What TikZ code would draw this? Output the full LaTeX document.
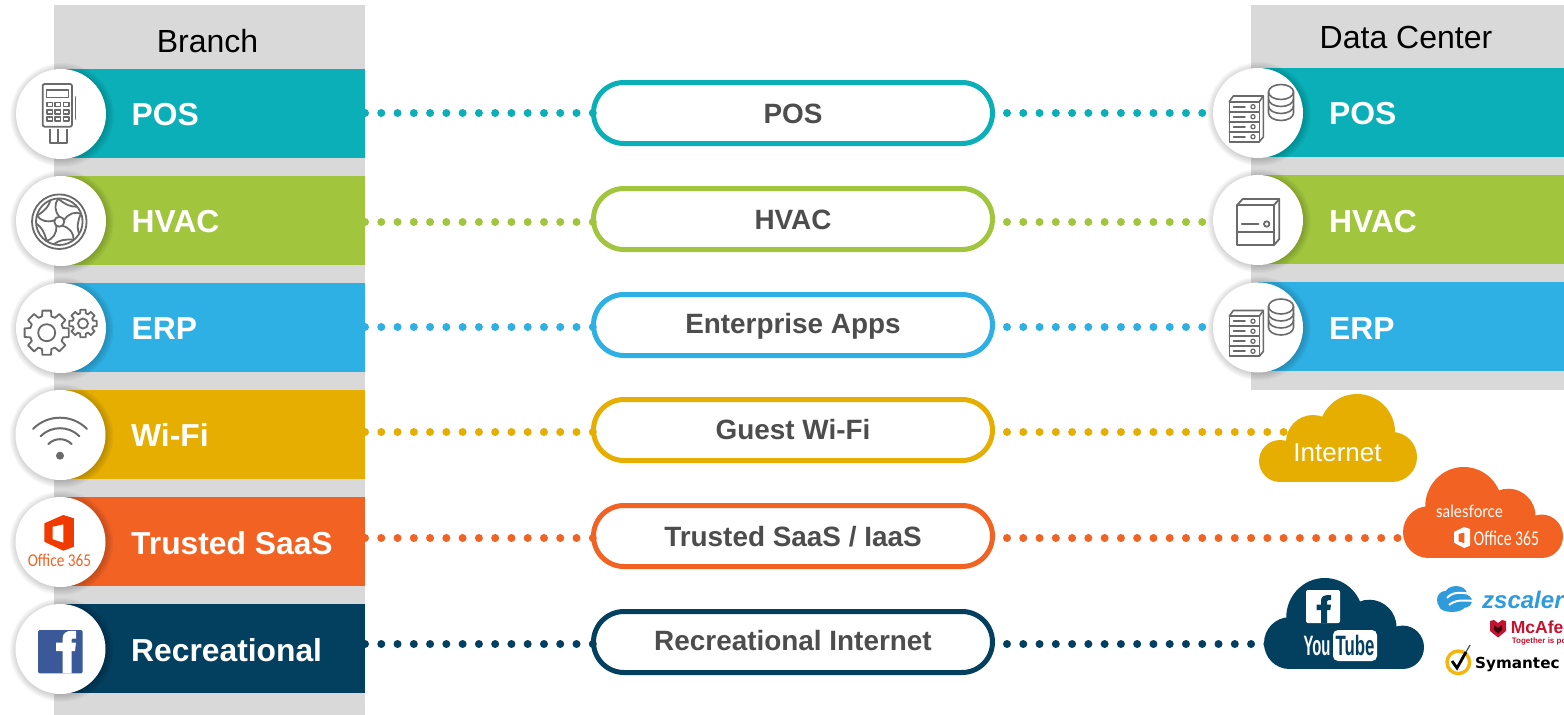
\documentclass[tikz,border=0pt]{standalone}
\usepackage{fontspec}
\usepackage{graphicx}
\setmainfont{Liberation Sans}
\newfontfamily\carlito{Carlito}
\newfontfamily\latofont{Lato}
\newfontfamily\dejavu{DejaVu Sans}
\definecolor{cteal}{HTML}{0AAFB7}
\definecolor{cgreen}{HTML}{A1C63E}
\definecolor{cblue}{HTML}{2EB0E4}
\definecolor{cyel}{HTML}{E5AE00}
\definecolor{corg}{HTML}{F26223}
\definecolor{cnavy}{HTML}{033F5F}
\definecolor{cgray}{HTML}{D9D9D9}
\definecolor{ctxt}{HTML}{4D4D4D}
\definecolor{cicon}{HTML}{6A6A6A}
\definecolor{cfb}{HTML}{3B5998}
\definecolor{coff}{HTML}{F03A00}
\definecolor{czs}{HTML}{2E9BDC}
\definecolor{cmc}{HTML}{C4122F}
\definecolor{csy}{HTML}{F5B50F}
\newcommand{\px}[1]{\fontsize{#1}{#1}\selectfont}
\tikzset{
  barbox/.style={rectangle,fill=#1,minimum height=89pt,inner sep=0pt,outer sep=0pt,anchor=north west},
  pillbox/.style={rectangle,draw=#1,fill=white,line width=5pt,rounded corners=30.5pt,minimum width=399pt,minimum height=61pt,inner sep=0pt,outer sep=0pt},
  pilltext/.style={text=ctxt,font=\px{27.9}\bfseries,inner sep=0pt,anchor=base},
  bartext/.style={text=white,font=\px{31.8}\bfseries,inner sep=0pt,anchor=base west},
  headtext/.style={text=black,font=\px{32},inner sep=0pt},
  dotsL/.style={draw=#1,line width=8pt,line cap=round,dash pattern=on 0pt off 16.27pt},
  dotsR/.style={draw=#1,line width=8pt,line cap=round,dash pattern=on 0pt off 16.27pt,dash phase=1.77pt},
  discbox/.style={circle,fill=white,minimum size=90pt,inner sep=0pt,outer sep=0pt},
  icon/.style={draw=cicon,line width=1.8pt,line join=round,line cap=round},
}
\newcommand{\discshadow}[2]{%
  \foreach \k in {1,...,8}{\fill[black,opacity=.022] (#1+1,#2+1) circle[radius=44pt+\k*1pt];}}
\newcommand{\cloudlobes}[1]{%
    \fill[#1] (99,38) circle[radius=38pt];
    \fill[#1] (55,48) circle[radius=27pt];
    \fill[#1] (22,67) circle[radius=21pt];
    \fill[#1] (134,63) circle[radius=25pt];
    \fill[#1] (22,50) rectangle (134,88);}
\newcommand{\mycloud}[5]{%
  \begin{scope}[shift={(#2,#3)},xscale=#4/159,yscale=#5/88]\cloudlobes{#1}\end{scope}}
\newcommand{\mycloudflip}[5]{%
  \begin{scope}[shift={(#2+#4,#3)},xscale=-#4/159,yscale=#5/88]\cloudlobes{#1}\end{scope}}
\newcommand{\officelogo}[5]{%
  \begin{scope}[shift={(#2,#3)},xscale=#4/89,yscale=#5/107]
    \fill[#1,even odd rule] (0,25) -- (57,0) -- (89,10) -- (89,95) -- (57,107) -- (0,80) -- cycle
      (25,35) -- (57,28) -- (57,83) -- (25,73) -- cycle;
  \end{scope}}
\newcommand{\rackdb}[2]{%
  \begin{scope}[shift={(#1,#2)}]
    \tikzset{icon/.append style={line width=1.6pt}}
    \draw[icon] (1268.5,92) arc[start angle=180,end angle=-180,x radius=12.5pt,y radius=7.5pt];
    \draw[icon] (1268.5,92) -- (1268.5,113) arc[start angle=180,end angle=360,x radius=12.5pt,y radius=7.5pt] -- (1293.5,92);
    \draw[icon] (1268.5,99) arc[start angle=180,end angle=360,x radius=12.5pt,y radius=7.5pt];
    \draw[icon] (1268.5,106) arc[start angle=180,end angle=360,x radius=12.5pt,y radius=7.5pt];
    \fill[white] (1228,96) rectangle (1265,143);
    \draw[icon] (1229.3,101.7) rectangle (1259.3,141.7);
    \draw[icon] (1229.3,101.7) -- (1233.3,96) -- (1263.3,96) -- (1263.3,137) -- (1259.3,141.7);
    \draw[icon] (1259.3,101.7) -- (1263.3,96);
    \foreach \r in {0,1,2,3}{
      \draw[icon] (1233.5,106.7+\r*10) -- (1245,106.7+\r*10);
      \draw[icon,line width=1.3pt] (1253,106.7+\r*10) circle[radius=2.1pt];
      \ifnum\r>0 \draw[icon] (1229.3,101.7+\r*10) -- (1259.3,101.7+\r*10);\fi
    }
  \end{scope}}
\newcommand{\gearshape}[4]{%
  \draw[icon] (#1,#2) +(-11:#3) \foreach \a in {0,45,...,315}{
      -- +(\a-11:#3) -- +(\a+11:#3) -- +(\a+16:#4) -- +(\a+29:#4)} -- cycle;}
\begin{document}
\begin{tikzpicture}[x=1pt,y=-1pt]
\useasboundingbox (0,0) rectangle (1564,715);
\clip (0,0) rectangle (1564,715);
\fill[white] (0,0) rectangle (1564,715);
\fill[cgray] (54,5) rectangle (365,715);
\fill[cgray] (1251,5) rectangle (1564,390);
\node[headtext] (hBranch) at (207.5,41) {Branch};
\node[headtext] (hDC) at (1406,37) {Data Center};
\node[barbox=cteal,minimum width=305pt] (barL1) at (60,69) {};
\node[barbox=cgreen,minimum width=305pt] (barL2) at (60,176) {};
\node[barbox=cblue,minimum width=305pt] (barL3) at (60,283) {};
\node[barbox=cyel,minimum width=305pt] (barL4) at (60,390) {};
\node[barbox=corg,minimum width=305pt] (barL5) at (60,497) {};
\node[barbox=cnavy,minimum width=305pt] (barL6) at (60,604) {};
\node[barbox=cteal,minimum width=306pt] (barR1) at (1258,68) {};
\node[barbox=cgreen,minimum width=306pt] (barR2) at (1258,175) {};
\node[barbox=cblue,minimum width=306pt] (barR3) at (1258,282) {};
\node[pillbox=cteal] (pill1) at (793,113) {};
\node[pillbox=cgreen] (pill2) at (793,219) {};
\node[pillbox=cblue] (pill3) at (793,325) {};
\node[pillbox=cyel] (pill4) at (793,430) {};
\node[pillbox=corg] (pill5) at (793,536) {};
\node[pillbox=cnavy] (pill6) at (793,642) {};
\node[pilltext] (lp1) at (793,123) {POS};
\node[pilltext] (lp2) at (793,229) {HVAC};
\node[pilltext] (lp3) at (793,333) {Enterprise Apps};
\node[pilltext] (lp4) at (793,439) {Guest Wi-Fi};
\node[pilltext] (lp5) at (793,546) {Trusted SaaS / IaaS};
\node[pilltext] (lp6) at (793,650) {Recreational Internet};
\coordinate (y1) at (0,113); \coordinate (y2) at (0,222); \coordinate (y3) at (0,327);
\coordinate (y4) at (0,432); \coordinate (y5) at (0,538); \coordinate (y6) at (0,644);
\coordinate (cloudA) at (1330,432); \coordinate (cloudB) at (1480,538); \coordinate (cloudC) at (1340,644);
\draw[dotsL=cteal] (barL1.east |- y1) -- (pill1.west |- y1);
\draw[dotsL=cgreen] (barL2.east |- y2) -- (pill2.west |- y2);
\draw[dotsL=cblue] (barL3.east |- y3) -- (pill3.west |- y3);
\draw[dotsL=cyel] (barL4.east |- y4) -- (pill4.west |- y4);
\draw[dotsL=corg] (barL5.east |- y5) -- (pill5.west |- y5);
\draw[dotsL=cnavy] (barL6.east |- y6) -- (pill6.west |- y6);
\draw[dotsR=cteal] (pill1.east |- y1) -- (barR1.west |- y1);
\draw[dotsR=cgreen] (pill2.east |- y2) -- (barR2.west |- y2);
\draw[dotsR=cblue] (pill3.east |- y3) -- (barR3.west |- y3);
\draw[dotsR=cyel] (pill4.east |- y4) -- (cloudA);
\draw[dotsR=corg] (pill5.east |- y5) -- (cloudB);
\draw[dotsR=cnavy] (pill6.east |- y6) -- (cloudC);
\node[bartext] (lL1) at (131.5,125.5) {POS};
\node[bartext] (lL2) at (131.5,232) {HVAC};
\node[bartext] (lL3) at (131.5,339.5) {ERP};
\node[bartext] (lL4) at (131,446) {Wi-Fi};
\node[bartext] (lL5) at (131,554) {Trusted SaaS};
\node[bartext] (lL6) at (131,661) {Recreational};
\node[bartext] (lR1) at (1329,124.5) {POS};
\node[bartext] (lR2) at (1329,232) {HVAC};
\node[bartext] (lR3) at (1329,339) {ERP};
\discshadow{61}{114}\node[discbox] (dL1) at (61,114) {};
\discshadow{61}{221}\node[discbox] (dL2) at (61,221) {};
\discshadow{61}{328}\node[discbox] (dL3) at (61,328) {};
\discshadow{60.5}{435}\node[discbox] (dL4) at (60.5,435) {};
\discshadow{60.5}{542}\node[discbox] (dL5) at (60.5,542) {};
\discshadow{60.5}{649}\node[discbox] (dL6) at (60.5,649) {};
\discshadow{1258}{113}\node[discbox] (dR1) at (1258,113) {};
\discshadow{1258}{220}\node[discbox] (dR2) at (1258,220) {};
\discshadow{1258}{327.5}\node[discbox] (dR3) at (1258,327.5) {};
% POS terminal
\draw[icon,rounded corners=2pt] (42.7,84) rectangle (72,126.7);
\draw[icon,line width=1.5pt] (46.7,90) rectangle (68.3,97.7);
\foreach \xx in {47,55,63.5}{\foreach \yy in {102.5,110,117}{
  \draw[icon,line width=1.4pt] (\xx,\yy) rectangle +(5.5,4);}}
\draw[icon] (75.5,97) -- (75.5,119);
\draw[icon,line cap=butt] (50,129) -- (50,143.3) -- (66.7,143.3) -- (66.7,129);
\draw[icon,line cap=butt] (58.3,129) -- (58.3,143.3);
% fan
\draw[icon] (59.3,221.7) circle[radius=27.3pt];
\draw[icon] (59.3,221.7) circle[radius=23.3pt];
\draw[icon] (59.3,221.7) circle[radius=5pt];
\foreach \rr in {0,72,144,216,288}{
  \begin{scope}[shift={(59.3,221.7)},rotate=\rr]
    \draw[icon] (0,-5) .. controls (-5,-11) and (-5,-18) .. (-1,-23);
    \draw[icon] (-1,-23) .. controls (6,-17) and (11,-15) .. (17,-15);
  \end{scope}}
% gears
\gearshape{46.7}{332.7}{22.5}{17}
\draw[icon] (46.7,332.7) circle[radius=8.5pt];
\gearshape{83}{323.5}{14}{10.5}
\draw[icon] (83,323.5) circle[radius=5pt];
% wifi
\fill[cicon] (60,455.7) circle[radius=4pt];
\draw[icon,line width=2pt] (60,455.7) ++(45:38pt) arc[start angle=45,end angle=135,radius=38pt];
\draw[icon,line width=2pt] (60,455.7) ++(45:27.5pt) arc[start angle=45,end angle=135,radius=27.5pt];
\draw[icon,line width=2pt] (60,455.7) ++(45:16.5pt) arc[start angle=45,end angle=135,radius=16.5pt];
% office
\officelogo{coff}{44.3}{515}{29.7}{35.7}
\node[text=corg,font=\carlito\px{18},inner sep=0pt] (t365) at (59.5,560.7) {\scalebox{.85}[1]{Office 365}};
% facebook
\fill[cfb,rounded corners=1.5pt] (38,630) rectangle (82.7,673.3);
\fill[white] (62.7,673.3) -- (62.7,651) -- (56,651) -- (56,642.5) -- (62.7,642.5) -- (62.7,638)
  .. controls (62.7,633) and (67,630.8) .. (71.5,630.8) -- (76,631) -- (76,638.5) -- (72.5,638.5)
  .. controls (71,638.5) and (71.7,640) .. (71.7,642.5) -- (76,642.5) -- (75,651) -- (71.7,651) -- (71.7,673.3) -- cycle;
% racks
\rackdb{0}{0}
\rackdb{0}{214.5}
% hvac box
\draw[icon] (1237.3,205) rectangle (1274,245);
\draw[icon] (1237.3,205) -- (1242.6,199) -- (1279.3,199) -- (1279.3,239) -- (1274,245);
\draw[icon] (1274,205) -- (1279.3,199);
\draw[icon] (1237.3,231.7) -- (1274,231.7);
\draw[icon] (1241.7,224) -- (1258.3,224);
\draw[icon] (1266.7,224) circle[radius=2.7pt];
% clouds
\mycloud{cyel}{1258}{394}{159}{88}
\node[text=white,font=\px{26},inner sep=0pt] (tInternet) at (1337.5,453) {Internet};
\mycloudflip{corg}{1403}{467}{161}{91}
\node[text=white,font=\latofont\px{17},inner sep=0pt] (tSF) at (1469.5,511) {\scalebox{.9}[1]{salesforce}};
\officelogo{white}{1454}{527}{16}{21}
\node[text=white,font=\carlito\px{21},inner sep=0pt] (tO3) at (1506.5,538) {\scalebox{.75}[1]{Office 365}};
\mycloudflip{cnavy}{1264}{578}{161}{91}
\fill[white,rounded corners=2pt] (1306,590) rectangle (1340,623);
\fill[cnavy] (1321,623) -- (1321,610) -- (1316.5,610) -- (1316.5,604.5) -- (1321,604.5) -- (1321,601)
  .. controls (1321,596.5) and (1324,595) .. (1327,595) -- (1331,595.2) -- (1331,600) -- (1328.5,600)
  .. controls (1326.5,600) and (1327,602) .. (1327,604.5) -- (1331,604.5) -- (1330.3,610) -- (1327,610) -- (1327,623) -- cycle;
\node[text=white,font=\px{28}\bfseries,inner sep=0pt] (tYou) at (1317,645.5) {\scalebox{.53}[1]{You}};
\fill[white,rounded corners=5pt] (1333,630) rectangle (1377,661);
\node[text=cnavy,font=\px{28}\bfseries,inner sep=0pt] (tTube) at (1355,645.5) {\scalebox{.6}[1]{Tube}};
% zscaler
\fill[czs] (1445,600) ellipse[x radius=8pt,y radius=9pt];
\fill[czs] (1456,594) ellipse[x radius=11pt,y radius=8pt];
\fill[czs] (1463,601) ellipse[x radius=9pt,y radius=7pt];
\fill[czs] (1452,606) ellipse[x radius=13pt,y radius=6pt];
\draw[white,line width=2pt] (1447,598) .. controls (1452,592) and (1460,592) .. (1470,594);
\draw[white,line width=2pt] (1449,605) .. controls (1455,600) and (1462,600) .. (1474,601);
\node[text=czs,font=\px{24}\bfseries\itshape,inner sep=0pt,anchor=base west] (tZs) at (1482,608) {zscaler};
% mcafee
\fill[cmc] (1490,621) -- (1494,620) -- (1498,623) -- (1502,620) -- (1506,621) -- (1506,631) -- (1498,637.5) -- (1490,631) -- cycle;
\fill[black!70!cmc] (1494,625) -- (1498,628) -- (1502,625) -- (1502,630) -- (1498,633.5) -- (1494,630) -- cycle;
\node[text=cmc,font=\px{17.5}\bfseries,inner sep=0pt,anchor=base west] (tMc) at (1510.7,633.5) {McAfee};
\node[text=cmc,font=\px{8}\bfseries,inner sep=0pt,anchor=base west] (tMc2) at (1511.7,643) {Together is power.};
% symantec
\draw[csy,line width=3.4pt] (1458.3,662.3) circle[radius=11.3pt];
\draw[black,line width=2.8pt,line join=miter] (1452,661) -- (1457,668) -- (1466,652);
\draw[black!70,line width=1.2pt] (1466,652) -- (1470,645);
\node[text=black,font=\dejavu\px{15.2}\bfseries,inner sep=0pt,anchor=base west] (tSy) at (1475,668.5) {Symantec};
\end{tikzpicture}
\end{document}
